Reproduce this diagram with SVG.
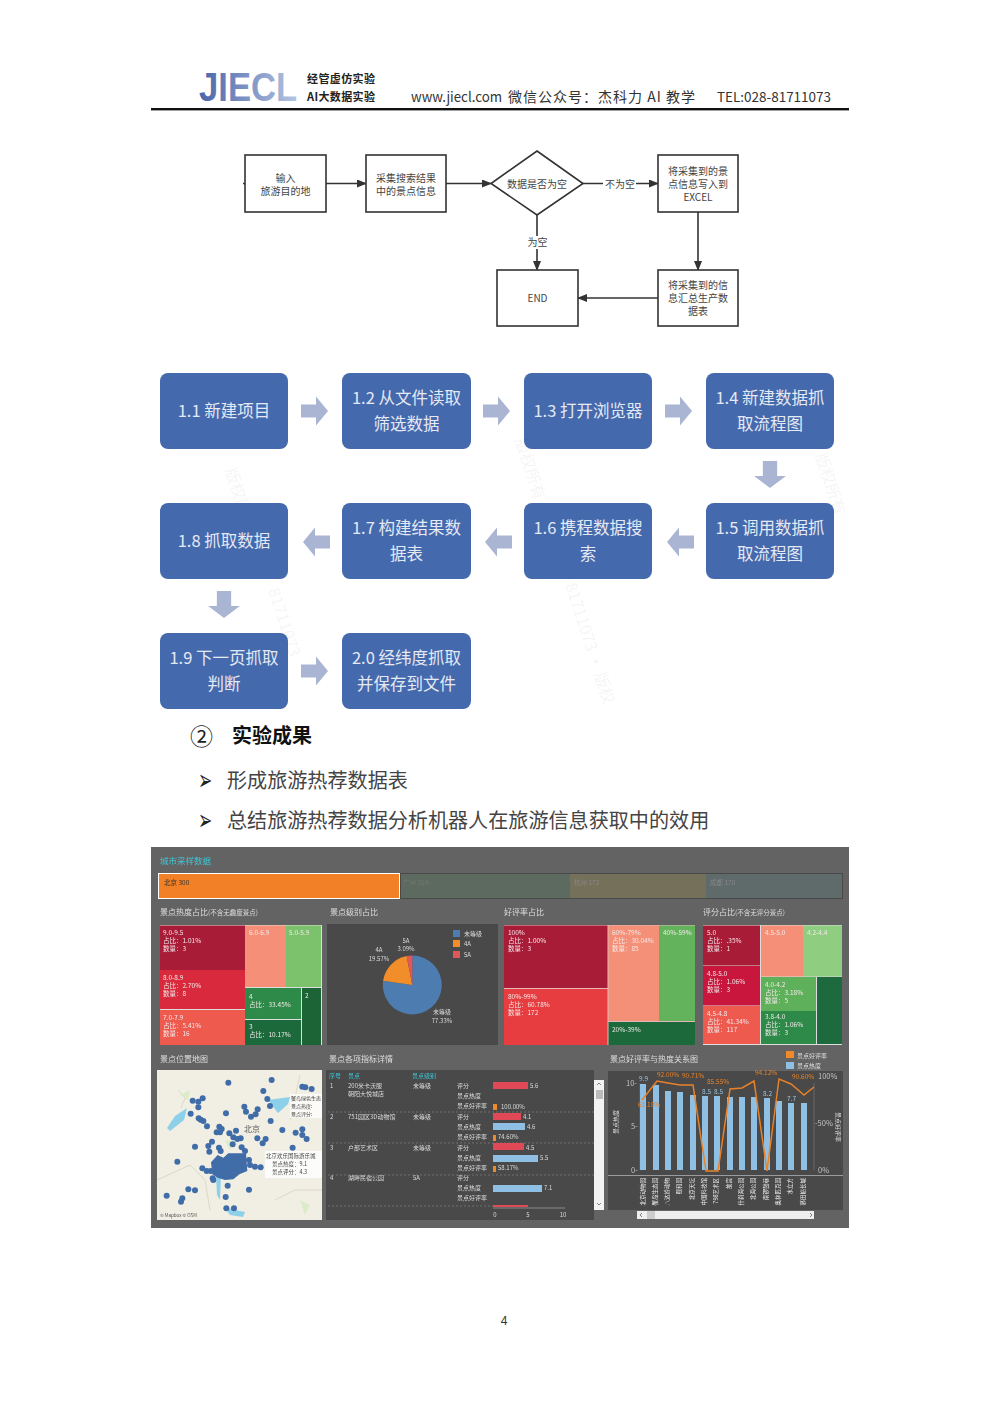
<svg xmlns="http://www.w3.org/2000/svg" width="1000" height="1413" viewBox="0 0 1000 1413">
<style>
text{font-family:"Noto Sans CJK SC","Noto Sans",sans-serif}
.fb{fill:#fff;stroke:#333;stroke-width:1.6}
.ft{font-size:10px;fill:#444;text-anchor:middle}
.cn{stroke:#333;stroke-width:1.6;fill:none;marker-end:url(#ah)}
.bb{fill:#4569ad}
.bt{font-size:16.500px;fill:#e4e9f4;text-anchor:middle}
.ar{fill:#aab5d4}
.wm{font-size:16px;fill:#000;opacity:.04}
.li{font-size:20.100px;fill:#444}
.bu{font-size:17px;fill:#222;font-family:"DejaVu Sans",sans-serif}
.dt{font-size:8px;fill:#ddd}
.tm{font-size:6.500px;fill:#f3e8e8}
.sm{font-size:6px;fill:#ddd}
.ax{font-size:7.500px;fill:#c4c4c4}
.or{font-size:6.500px;fill:#e8822a}
.bl{font-size:6.500px;fill:#9cc4e2}
.xl{font-size:5.500px;fill:#eee;text-anchor:end}
.rb{fill:#e04a55}.lb{fill:#8fc0e4}.ob{fill:#ef8a2a}
</style>
<defs>
<marker id="ah" markerWidth="10" markerHeight="8" refX="9" refY="4" orient="auto" markerUnits="userSpaceOnUse"><path d="M0 0L10 4L0 8Z" fill="#333"/></marker>
<linearGradient id="lg" x1="0" x2="1" y1="0" y2="0"><stop offset="0" stop-color="#4a64aa"/><stop offset="1" stop-color="#b4c4e2"/></linearGradient>
<path id="ra" d="M0-6.500H15V-14.500L27 0L15 14.500V6.500H0Z"/>
<filter id="soft" x="0" y="0" width="1" height="1"><feGaussianBlur stdDeviation="0.4"/></filter>
</defs>
<rect width="1000" height="1413" fill="#fff"/>
<g id="header">
<text transform="translate(199 101) scale(.845 1)" font-size="41" font-weight="700" fill="url(#lg)" style="font-family:'Liberation Sans',sans-serif">JIECL</text>
<text x="307" y="83" font-size="11" font-weight="700" fill="#222" textLength="68">经管虚仿实验</text>
<text x="307" y="101" font-size="11" font-weight="700" fill="#222" textLength="68">AI大数据实验</text>
<text x="411" y="102" font-size="14" fill="#333" textLength="91" lengthAdjust="spacingAndGlyphs">www.jiecl.com</text>
<text x="508" y="102" font-size="14" fill="#333" textLength="187">微信公众号：杰科力 AI 教学</text>
<text x="717" y="102" font-size="13.500" fill="#333" textLength="114" lengthAdjust="spacingAndGlyphs">TEL:028-81711073</text>
<rect x="151" y="108" width="698" height="2.400" fill="#111"/>
</g>
<g id="connectors">
<path class="cn" d="M243 183.500H366"/>
<path class="cn" d="M446 183.500H491"/>
<path class="cn" d="M583 183.500H658"/>
<path class="cn" d="M537 215V270"/>
<path class="cn" d="M698 212V270"/>
<path class="cn" d="M658 298H578"/>
</g>
<g id="n-input"><rect class="fb" x="245" y="155" width="81" height="57"/><text class="ft" x="285.500" y="182">输入</text><text class="ft" x="285.500" y="195">旅游目的地</text></g>
<g id="n-collect"><rect class="fb" x="366" y="155" width="80" height="57"/><text class="ft" x="406" y="182">采集搜索结果</text><text class="ft" x="406" y="195">中的景点信息</text></g>
<g id="n-empty"><path class="fb" d="M537 151L583 183.500L537 215L491 183.500Z"/><text class="ft" x="537" y="188">数据是否为空</text></g>
<g id="n-write"><rect class="fb" x="658" y="155" width="80" height="57"/><text class="ft" x="698" y="175">将采集到的景</text><text class="ft" x="698" y="188">点信息写入到</text><text class="ft" x="698" y="201">EXCEL</text></g>
<g id="n-end"><rect class="fb" x="497" y="270" width="81" height="56"/><text class="ft" x="537.500" y="302">END</text></g>
<g id="n-sum"><rect class="fb" x="658" y="270" width="80" height="56"/><text class="ft" x="698" y="289">将采集到的信</text><text class="ft" x="698" y="302">息汇总生产数</text><text class="ft" x="698" y="315">据表</text></g>
<g id="labels">
<rect x="603" y="177" width="33" height="13" fill="#fff"/><text class="ft" x="620" y="188">不为空</text>
<rect x="527" y="236" width="21" height="13" fill="#fff"/><text class="ft" x="537.500" y="246">为空</text>
</g>
<g id="watermark">
<text class="wm" transform="translate(268 590) rotate(72)">81711073</text>
<text class="wm" transform="translate(565 585) rotate(72)">81711073 · 版权</text>
<text class="wm" transform="translate(225 470) rotate(72)">版权所有</text>
<text class="wm" transform="translate(515 440) rotate(72)">版权所有</text>
<text class="wm" transform="translate(815 455) rotate(72)">版权所有</text>
</g>
<g id="s11"><rect class="bb" x="160" y="373" width="128" height="76" rx="8"/><text class="bt" x="224" y="417">1.1 新建项目</text></g>
<g id="s12"><rect class="bb" x="342" y="373" width="129" height="76" rx="8"/><text class="bt" x="406.500" y="404">1.2 从文件读取</text><text class="bt" x="406.500" y="430">筛选数据</text></g>
<g id="s13"><rect class="bb" x="524" y="373" width="128" height="76" rx="8"/><text class="bt" x="588" y="417">1.3 打开浏览器</text></g>
<g id="s14"><rect class="bb" x="706" y="373" width="128" height="76" rx="8"/><text class="bt" x="770" y="404">1.4 新建数据抓</text><text class="bt" x="770" y="430">取流程图</text></g>
<g id="s15"><rect class="bb" x="706" y="503" width="128" height="76" rx="8"/><text class="bt" x="770" y="534">1.5 调用数据抓</text><text class="bt" x="770" y="560">取流程图</text></g>
<g id="s16"><rect class="bb" x="524" y="503" width="128" height="76" rx="8"/><text class="bt" x="588" y="534">1.6 携程数据搜</text><text class="bt" x="588" y="560">索</text></g>
<g id="s17"><rect class="bb" x="342" y="503" width="129" height="76" rx="8"/><text class="bt" x="406.500" y="534">1.7 构建结果数</text><text class="bt" x="406.500" y="560">据表</text></g>
<g id="s18"><rect class="bb" x="160" y="503" width="128" height="76" rx="8"/><text class="bt" x="224" y="547">1.8 抓取数据</text></g>
<g id="s19"><rect class="bb" x="160" y="633" width="128" height="76" rx="8"/><text class="bt" x="224" y="664">1.9 下一页抓取</text><text class="bt" x="224" y="690">判断</text></g>
<g id="s20"><rect class="bb" x="342" y="633" width="129" height="76" rx="8"/><text class="bt" x="406.500" y="664">2.0 经纬度抓取</text><text class="bt" x="406.500" y="690">并保存到文件</text></g>
<g id="step-arrows" class="ar">
<use href="#ra" transform="translate(301 411)"/>
<use href="#ra" transform="translate(483 411)"/>
<use href="#ra" transform="translate(665 411)"/>
<use href="#ra" transform="translate(770 461) rotate(90) scale(1 1.100)"/>
<use href="#ra" transform="translate(694 542) rotate(180)"/>
<use href="#ra" transform="translate(512 542) rotate(180)"/>
<use href="#ra" transform="translate(330 542) rotate(180)"/>
<use href="#ra" transform="translate(224 591) rotate(90) scale(1 1.100)"/>
<use href="#ra" transform="translate(301 671)"/>
</g>
<g id="section">
<text x="201.500" y="745" font-size="23" fill="#222" text-anchor="middle">②</text>
<text x="232" y="743" font-size="20" font-weight="700" fill="#111">实验成果</text>
<text class="bu" transform="translate(198 790) scale(1 1.700)">➢</text>
<text class="li" x="227" y="788">形成旅游热荐数据表</text>
<text class="bu" transform="translate(198 830) scale(1 1.700)">➢</text>
<text class="li" x="227" y="828">总结旅游热荐数据分析机器人在旅游信息获取中的效用</text>
</g>
<g id="dashboard" filter="url(#soft)">
<rect x="151" y="847" width="698" height="381" fill="#646464"/>
<text x="160" y="864" font-size="8.500" fill="#3fc6d6">城市采样数据</text>
<rect x="400" y="873" width="443" height="26" fill="#484848"/>
<rect x="401" y="874" width="169" height="24" fill="#5b6a5e"/>
<rect x="570" y="874" width="136" height="24" fill="#75705a"/>
<rect x="706" y="874" width="136" height="24" fill="#5f6a6b"/>
<rect x="158.500" y="873.500" width="241" height="25" fill="#f28025" stroke="#fff"/>
<text x="164" y="885" font-size="6.500" fill="#333">北京 300</text>
<text x="403" y="885" font-size="6.500" fill="#777">广州 214</text>
<text x="574" y="885" font-size="6.500" fill="#888">杭州 172</text>
<text x="710" y="885" font-size="6.500" fill="#888">成都 170</text>
<text class="dt" x="160" y="915">景点热度占比<tspan font-size="6.500">(不含无趣度景点)</tspan></text>
<text class="dt" x="330" y="915">景点级别占比</text>
<text class="dt" x="504" y="915">好评率占比</text>
<text class="dt" x="703" y="915">评分占比<tspan font-size="6.500">(不含无评分景点)</tspan></text>
<rect x="160" y="925" width="162" height="120" fill="#ddd"/>
<rect x="160" y="925.500" width="85" height="44.500" fill="#a81a38"/>
<rect x="160" y="970" width="85" height="39" fill="#d92a3c"/>
<rect x="160" y="1010" width="85" height="35" fill="#ef5a50"/>
<rect x="245" y="925.500" width="41" height="61.500" fill="#f68f78"/>
<rect x="286" y="925.500" width="35" height="61.500" fill="#7cc26d"/>
<rect x="245" y="988" width="56" height="31" fill="#2f8a4a"/>
<rect x="245" y="1020" width="56" height="25" fill="#1a6b3a"/>
<rect x="302" y="988" width="19" height="57" fill="#1a6334"/>
<text class="tm" x="163" y="935">9.0-9.5</text><text class="tm" x="163" y="943">占比：1.01%</text><text class="tm" x="163" y="951">数量：3</text>
<text class="tm" x="163" y="980">8.0-8.9</text><text class="tm" x="163" y="988">占比：2.70%</text><text class="tm" x="163" y="996">数量：8</text>
<text class="tm" x="163" y="1020">7.0-7.9</text><text class="tm" x="163" y="1028">占比：5.41%</text><text class="tm" x="163" y="1036">数量：16</text>
<text class="tm" x="249" y="935">6.0-6.9</text><text class="tm" x="289" y="935">5.0-5.9</text>
<text class="tm" x="249" y="999">4</text><text class="tm" x="249" y="1007">占比：33.45%</text>
<text class="tm" x="305" y="998">2</text>
<text class="tm" x="249" y="1029">3</text><text class="tm" x="249" y="1037">占比：10.17%</text>
<rect x="327" y="924" width="171" height="121" fill="#484848"/>
<path d="M412.300 985L383.100 980.700A29.500 29.500 0 1 0 412.300 955.500Z" fill="#4e7cb0"/>
<path d="M412.300 985L406.600 956.100A29.500 29.500 0 0 0 383.100 980.700Z" fill="#f28e2b"/>
<path d="M412.300 985L412.300 955.500A29.500 29.500 0 0 0 406.600 956.100Z" fill="#e15759"/>
<rect x="453" y="930" width="7" height="7" fill="#4e7cb0"/><rect x="453" y="940" width="7" height="7" fill="#f28e2b"/><rect x="453" y="951" width="7" height="7" fill="#e15759"/>
<text class="sm" x="464" y="936">未等级</text><text class="sm" x="464" y="946">4A</text><text class="sm" x="464" y="957">5A</text>
<text class="sm" x="406" y="943" text-anchor="middle">5A</text><text class="sm" x="406" y="951" text-anchor="middle">3.09%</text>
<text class="sm" x="379" y="952" text-anchor="middle">4A</text><text class="sm" x="379" y="961" text-anchor="middle">19.57%</text>
<text class="sm" x="442" y="1014" text-anchor="middle">未等级</text><text class="sm" x="442" y="1023" text-anchor="middle">77.33%</text>
<rect x="504" y="925" width="191" height="120" fill="#e4b8b8"/>
<rect x="504" y="925.500" width="103.500" height="62.500" fill="#a81a38"/>
<rect x="504" y="989" width="103.500" height="56" fill="#e83e40"/>
<rect x="608.500" y="925.500" width="50.500" height="95.500" fill="#f59078"/>
<rect x="659" y="925.500" width="36" height="95.500" fill="#62b35c"/>
<rect x="608.500" y="1022" width="86.500" height="23" fill="#1a6b3a"/>
<text class="tm" x="508" y="935">100%</text><text class="tm" x="508" y="943">占比：1.00%</text><text class="tm" x="508" y="951">数量：3</text>
<text class="tm" x="508" y="999">80%-99%</text><text class="tm" x="508" y="1007">占比：60.78%</text><text class="tm" x="508" y="1015">数量：172</text>
<text class="tm" x="612" y="935">60%-79%</text><text class="tm" x="612" y="943">占比：30.04%</text><text class="tm" x="612" y="951">数量：85</text>
<text class="tm" x="663" y="935">40%-59%</text>
<text class="tm" x="612" y="1032">20%-39%</text>
<rect x="703" y="925" width="139" height="120" fill="#ddd"/>
<rect x="703" y="925.500" width="57" height="40" fill="#a81a38"/>
<rect x="703" y="966" width="57" height="39.500" fill="#c8153c"/>
<rect x="703" y="1006" width="57" height="38" fill="#ef5a50"/>
<rect x="761" y="925.500" width="42" height="51" fill="#f68f78"/>
<rect x="803" y="925.500" width="39" height="51" fill="#8fce80"/>
<rect x="761" y="977" width="55" height="34" fill="#5fb05a"/>
<rect x="761" y="1011" width="55" height="33" fill="#2f8a4a"/>
<rect x="817" y="977" width="25" height="67" fill="#1f6b3e"/>
<text class="tm" x="707" y="935">5.0</text><text class="tm" x="707" y="943">占比：.35%</text><text class="tm" x="707" y="951">数量：1</text>
<text class="tm" x="707" y="976">4.8-5.0</text><text class="tm" x="707" y="984">占比：1.06%</text><text class="tm" x="707" y="992">数量：3</text>
<text class="tm" x="707" y="1016">4.5-4.8</text><text class="tm" x="707" y="1024">占比：41.34%</text><text class="tm" x="707" y="1032">数量：117</text>
<text class="tm" x="765" y="935">4.5-5.0</text><text class="tm" x="807" y="935">4.2-4.4</text>
<text class="tm" x="765" y="987">4.0-4.2</text><text class="tm" x="765" y="995">占比：3.18%</text><text class="tm" x="765" y="1003">数量：5</text>
<text class="tm" x="765" y="1019">3.8-4.0</text><text class="tm" x="765" y="1027">占比：1.06%</text><text class="tm" x="765" y="1035">数量：3</text>
<text class="dt" x="160" y="1062">景点位置地图</text>
<text class="dt" x="329" y="1062">景点各项指标详情</text>
<text class="dt" x="610" y="1062">景点好评率与热度关系图</text>
<rect x="157" y="1070" width="165" height="150" fill="#f1eee3"/>
<path d="M167 1128L175 1116L187 1108L184 1120L170 1131Z" fill="#8cd0ea"/>
<path d="M268 1100L290 1097L288 1104L278 1113Z" fill="#8cd0ea"/>
<path d="M216 1175L221 1175L220 1200L217 1195Z" fill="#8cd0ea"/>
<path d="M225 1208L245 1212L243 1217L230 1215Z" fill="#8cd0ea"/>
<path d="M178 1090L185 1098L181 1108M290 1120L300 1075M157 1180L190 1165L205 1180L210 1210M275 1200L295 1190L322 1190" fill="none" stroke="#cfcab4" stroke-width=".6"/>
<path d="M180 1095L190 1090L188 1100ZM225 1140L235 1142L230 1150ZM300 1200L310 1205L305 1215Z" fill="#dcebc8"/>
<text x="244" y="1132" font-size="8" fill="#555">北京</text>
<g fill="#3f6ca8" transform="translate(150 1045) scale(.3333)">
<path d="M183 352L203 330L220 338L235 325L288 325L292 378L268 388L250 403L225 405L203 398L187 388Z"/>
<circle cx="235" cy="113" r="9"/><circle cx="365" cy="105" r="9"/><circle cx="457" cy="125" r="9"/><circle cx="466" cy="127" r="9"/><circle cx="485" cy="132" r="9"/><circle cx="340" cy="138" r="9"/><circle cx="352" cy="162" r="9"/><circle cx="360" cy="183" r="9"/><circle cx="128" cy="167" r="9"/><circle cx="145" cy="170" r="9"/><circle cx="158" cy="160" r="9"/><circle cx="145" cy="187" r="9"/><circle cx="122" cy="206" r="9"/><circle cx="283" cy="185" r="9"/><circle cx="288" cy="200" r="9"/><circle cx="303" cy="215" r="9"/><circle cx="317" cy="208" r="9"/><circle cx="323" cy="193" r="9"/><circle cx="228" cy="205" r="9"/><circle cx="146" cy="220" r="9"/><circle cx="152" cy="224" r="9"/><circle cx="160" cy="228" r="9"/><circle cx="171" cy="244" r="9"/><circle cx="362" cy="228" r="9"/><circle cx="208" cy="245" r="9"/><circle cx="215" cy="252" r="9"/><circle cx="200" cy="262" r="9"/><circle cx="210" cy="262" r="9"/><circle cx="238" cy="265" r="9"/><circle cx="258" cy="257" r="9"/><circle cx="250" cy="277" r="9"/><circle cx="262" cy="282" r="9"/><circle cx="272" cy="280" r="9"/><circle cx="397" cy="255" r="9"/><circle cx="437" cy="263" r="9"/><circle cx="457" cy="253" r="9"/><circle cx="457" cy="270" r="9"/><circle cx="470" cy="282" r="9"/><circle cx="322" cy="280" r="9"/><circle cx="347" cy="282" r="9"/><circle cx="338" cy="295" r="9"/><circle cx="186" cy="290" r="9"/><circle cx="175" cy="303" r="9"/><circle cx="135" cy="305" r="9"/><circle cx="178" cy="320" r="9"/><circle cx="207" cy="308" r="9"/><circle cx="212" cy="318" r="9"/><circle cx="248" cy="298" r="9"/><circle cx="275" cy="307" r="9"/><circle cx="285" cy="318" r="9"/><circle cx="428" cy="308" r="9"/><circle cx="297" cy="345" r="9"/><circle cx="300" cy="360" r="9"/><circle cx="315" cy="365" r="9"/><circle cx="332" cy="367" r="9"/><circle cx="82" cy="350" r="9"/><circle cx="157" cy="370" r="9"/><circle cx="170" cy="378" r="9"/><circle cx="182" cy="378" r="9"/><circle cx="188" cy="400" r="9"/><circle cx="190" cy="405" r="9"/><circle cx="233" cy="422" r="9"/><circle cx="115" cy="433" r="9"/><circle cx="135" cy="436" r="9"/><circle cx="297" cy="434" r="9"/><circle cx="50" cy="452" r="9"/><circle cx="227" cy="456" r="9"/><circle cx="97" cy="460" r="9"/><circle cx="93" cy="470" r="9"/><circle cx="229" cy="490" r="9"/><circle cx="252" cy="490" r="9"/>
</g>
<rect x="290" y="1094" width="32" height="24" fill="#fff" opacity=".75"/>
<text x="291" y="1100" font-size="5" fill="#444">蟹岛绿色生态</text><text x="291" y="1108" font-size="5" fill="#444">景点热度:</text><text x="291" y="1116" font-size="5" fill="#444">景点评分:</text>
<rect x="265" y="1151" width="57" height="27" fill="#fff" opacity=".8"/>
<text x="266" y="1158" font-size="5.500" fill="#444">北京欢乐国际游乐城</text><text x="272" y="1166" font-size="5.500" fill="#444">景点热度：9.1</text><text x="272" y="1174" font-size="5.500" fill="#444">景点评分：4.3</text>
<text x="160" y="1217" font-size="4.500" fill="#555">© Mapbox © OSM</text>
<rect x="326" y="1070" width="268" height="150" fill="#484848"/>
<text class="sm" x="329" y="1078" style="fill:#3fc6d6">序号</text><text class="sm" x="348" y="1078" style="fill:#3fc6d6">景点</text><text class="sm" x="412" y="1078" style="fill:#3fc6d6">景点级别</text>
<text class="sm" x="330" y="1088">1</text><text class="sm" x="348" y="1088">200米卡沃服</text><text class="sm" x="348" y="1096">朝阳大悦城店</text><text class="sm" x="413" y="1088">未等级</text>
<text class="sm" x="330" y="1119">2</text><text class="sm" x="348" y="1119">751园区3D动物馆</text><text class="sm" x="413" y="1119">未等级</text>
<text class="sm" x="330" y="1150">3</text><text class="sm" x="348" y="1150">户部艺术区</text><text class="sm" x="413" y="1150">未等级</text>
<text class="sm" x="330" y="1180">4</text><text class="sm" x="348" y="1180">湖畔民宿公园</text><text class="sm" x="413" y="1180">5A</text>
<text class="sm" x="457" y="1088">评分</text><text class="sm" x="457" y="1098">景点热度</text><text class="sm" x="457" y="1108">景点好评率</text><text class="sm" x="457" y="1119">评分</text><text class="sm" x="457" y="1129">景点热度</text><text class="sm" x="457" y="1139">景点好评率</text><text class="sm" x="457" y="1150">评分</text><text class="sm" x="457" y="1160">景点热度</text><text class="sm" x="457" y="1170">景点好评率</text><text class="sm" x="457" y="1180">评分</text><text class="sm" x="457" y="1190">景点热度</text><text class="sm" x="457" y="1200">景点好评率</text>
<path d="M328 1112H594M328 1143H594M328 1175H594M328 1206H500" stroke="#999" stroke-width=".5" stroke-dasharray="2 2" fill="none"/>
<rect class="rb" x="493" y="1082" width="35" height="7"/><text class="sm" x="530" y="1088">5.6</text>
<rect class="ob" x="493" y="1104" width="4" height="6"/><text class="sm" x="501" y="1109">100.00%</text>
<rect class="rb" x="493" y="1113" width="28" height="7"/><text class="sm" x="523" y="1119">4.1</text>
<rect class="lb" x="493" y="1123" width="32" height="7"/><text class="sm" x="527" y="1129">4.6</text>
<rect class="ob" x="493" y="1135" width="3" height="6"/><text class="sm" x="498" y="1139">74.60%</text>
<rect class="rb" x="493" y="1143" width="31" height="7"/><text class="sm" x="526" y="1150">4.5</text>
<rect class="lb" x="493" y="1155" width="45" height="7"/><text class="sm" x="540" y="1160">5.5</text>
<rect class="ob" x="493" y="1166" width="3" height="6"/><text class="sm" x="498" y="1170">58.17%</text>
<rect class="lb" x="493" y="1185" width="49" height="7"/><text class="sm" x="544" y="1190">7.1</text>
<rect class="rb" x="493" y="1205" width="35" height="2"/>
<path d="M493 1208H565" stroke="#bbb" stroke-width=".6"/>
<text class="sm" x="495" y="1217" text-anchor="middle">0</text><text class="sm" x="528" y="1217" text-anchor="middle">5</text><text class="sm" x="563" y="1217" text-anchor="middle">10</text>
<rect x="594" y="1080" width="10" height="130" fill="#f2f2f2"/>
<rect x="596" y="1090" width="7" height="9" fill="#bbb"/>
<path d="M597 1085L599 1083L601 1085M597 1203L599 1205L601 1203" stroke="#555" stroke-width=".7" fill="none"/>
<rect x="786" y="1051" width="8" height="7" fill="#ef8a2a"/><rect x="786" y="1062" width="8" height="7" fill="#8fc0e4"/>
<text class="sm" x="797" y="1058">景点好评率</text><text class="sm" x="797" y="1068">景点热度</text>
<rect x="608" y="1071" width="235" height="104" fill="#484848"/>
<rect x="608" y="1176" width="235" height="34" fill="#484848"/>
<path d="M608 1175.500H843" stroke="#aaa" stroke-width=".8"/>
<path d="M640 1083V1170M814 1083V1170" stroke="#888" stroke-width=".5"/>
<g fill="#8fc0e4">
<rect x="640" y="1084" width="6" height="86"/><rect x="653" y="1085" width="6" height="85"/><rect x="665" y="1091" width="6" height="79"/><rect x="677" y="1092" width="6" height="78"/><rect x="690" y="1095" width="6" height="75"/><rect x="702" y="1096" width="6" height="74"/><rect x="714" y="1096" width="6" height="74"/><rect x="727" y="1097" width="6" height="73"/><rect x="739" y="1097" width="6" height="73"/><rect x="751" y="1097" width="6" height="73"/><rect x="764" y="1098" width="6" height="72"/><rect x="776" y="1101" width="6" height="69"/><rect x="788" y="1103" width="6" height="67"/><rect x="801" y="1103" width="6" height="67"/>
</g>
<path d="M642 1100L657 1081L668 1083L680 1085L693 1085L706 1171L718 1171L730 1089L742 1088L754 1081L767 1171L779 1079L791 1084L804 1095L814 1087" fill="none" stroke="#e8822a" stroke-width="1.500"/>
<text class="ax" x="626" y="1086">10-</text><text class="ax" x="631" y="1129">5-</text><text class="ax" x="631" y="1173">0-</text>
<text class="ax" x="818" y="1079">100%</text><text class="ax" x="815" y="1126">-50%</text><text class="ax" x="818" y="1173">0%</text>
<text class="bl" x="639" y="1081">9.9</text><text class="bl" x="702" y="1094">8.5</text><text class="bl" x="714" y="1094">8.5</text><text class="bl" x="763" y="1096">8.2</text><text class="bl" x="787" y="1101">7.7</text>
<text class="or" x="657" y="1077">92.00%</text><text class="or" x="682" y="1078">90.71%</text><text class="or" x="707" y="1084">85.55%</text><text class="or" x="755" y="1075">94.12%</text><text class="or" x="792" y="1079">90.60%</text><text class="or" x="638" y="1107">61.18%</text>
<text class="sm" transform="translate(618 1134) rotate(-90)">景点热度</text><text class="sm" transform="translate(836 1112) rotate(90)">景点好评率</text>
<text class="xl" transform="translate(645 1178) rotate(-90)">北京动物园</text><text class="xl" transform="translate(657 1178) rotate(-90)">蟹岛生态园</text><text class="xl" transform="translate(669 1178) rotate(-90)">八达岭动物</text><text class="xl" transform="translate(681 1178) rotate(-90)">颐和园</text><text class="xl" transform="translate(694 1178) rotate(-90)">北京天坛</text><text class="xl" transform="translate(706 1178) rotate(-90)">中国科技馆</text><text class="xl" transform="translate(718 1178) rotate(-90)">798艺术区</text><text class="xl" transform="translate(731 1178) rotate(-90)">故宫</text><text class="xl" transform="translate(743 1178) rotate(-90)">什刹海公园</text><text class="xl" transform="translate(755 1178) rotate(-90)">北海公园</text><text class="xl" transform="translate(768 1178) rotate(-90)">南锣鼓巷</text><text class="xl" transform="translate(780 1178) rotate(-90)">奥林匹克园</text><text class="xl" transform="translate(792 1178) rotate(-90)">水立方</text><text class="xl" transform="translate(805 1178) rotate(-90)">慕田峪长城</text>
<rect x="637" y="1211" width="177" height="8" fill="#eee"/><rect x="647" y="1211" width="8" height="8" fill="#ccc"/>
<path d="M642 1213L640 1215L642 1217M810 1213L812 1215L810 1217" stroke="#555" stroke-width=".7" fill="none"/>
</g>
<text id="page" x="504" y="1325" font-size="12" fill="#333" text-anchor="middle" style="font-family:'Liberation Sans',sans-serif">4</text>
</svg>
